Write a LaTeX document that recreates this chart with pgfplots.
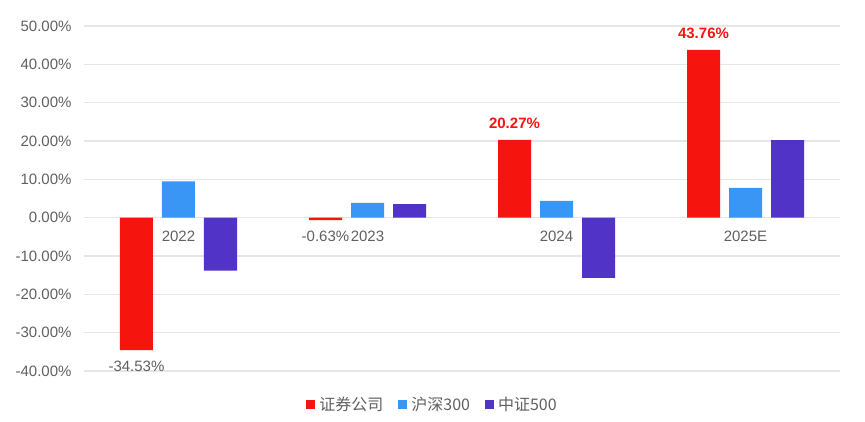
\documentclass[border=0pt]{standalone}
\usepackage{fontspec}
\setmainfont{Liberation Sans}
\newfontfamily\cjk{Noto Sans CJK SC}
\usepackage{pgfplots}
\pgfplotsset{compat=1.18}
\definecolor{cred}{RGB}{246,20,14}
\definecolor{cblue}{RGB}{58,150,245}
\definecolor{cpurple}{RGB}{82,51,200}
\definecolor{tgray}{RGB}{96,96,96}
\definecolor{ggray}{RGB}{230,230,230}
\newcommand\legtxt[1]{{\cjk\fontsize{16}{19}\selectfont #1}}
\pgfplotsset{sqlegend/.style={legend image code/.code={\fill[##1] (0pt,-4.5pt) rectangle (9pt,4.5pt);}}}
\begin{document}
\begin{tikzpicture}
\begin{axis}[
  scale only axis, width=756pt, height=345pt,
  xmin=-0.5, xmax=3.5, ymin=-40, ymax=50,
  axis x line*=middle, axis y line*=left,
  axis line style={draw=none},
  major tick length=0pt,
  hide obscured y ticks=false,
  ytick={-40,-30,...,50},
  ymajorgrids, grid style={ggray, line width=1.2pt},
  xtick={0,1,2,3}, xticklabels={2022,2023,2024,2025E},
  yticklabel={\pgfmathprintnumber[fixed,fixed zerofill,precision=2]{\tick}\%},
  ticklabel style={font=\fontsize{15}{18}\selectfont, text=tgray},
  x tick label style={yshift=-10pt},
  y tick label style={xshift=-9pt},
  /pgf/number format/assume math mode=true,
  legend style={at={(0.461,0)}, anchor=center, yshift=-34pt, draw=none, fill=none,
    legend columns=-1, text=tgray,
    /tikz/every odd column/.append style={column sep=2pt},
    /tikz/every even column/.append style={column sep=13pt}},
]
\addplot[ybar, fill=cred, draw=none, bar width=33pt, bar shift=-42pt, sqlegend,
  nodes near coords={\pgfmathprintnumber[fixed,fixed zerofill,precision=2]{\pgfplotspointmeta}\%},
  nodes near coords style={font=\fontsize{15}{18}\selectfont, text=tgray, inner ysep=11pt, xshift=-42pt}]
  coordinates {(0,-34.53) (1,-0.63)};
\addlegendentry{\legtxt{证券公司}}
\addplot[ybar, fill=cblue, draw=none, bar width=33pt, bar shift=0pt, sqlegend]
  coordinates {(0,9.47) (1,3.83) (2,4.35) (3,7.8)};
\addlegendentry{\legtxt{沪深300}}
\addplot[ybar, fill=cpurple, draw=none, bar width=33pt, bar shift=42pt, sqlegend]
  coordinates {(0,-13.8) (1,3.5) (2,-15.7) (3,20.2)};
\addlegendentry{\legtxt{中证500}}
\addplot[ybar, fill=cred, draw=none, bar width=33pt, bar shift=-42pt, forget plot,
  nodes near coords={\pgfmathprintnumber[fixed,fixed zerofill,precision=2]{\pgfplotspointmeta}\%},
  nodes near coords style={font=\bfseries\fontsize{15}{18}\selectfont, text=cred, inner ysep=11pt, xshift=-42pt}]
  coordinates {(2,20.27) (3,43.76)};
\end{axis}
\pgfresetboundingbox
\path ([shift={(-84pt,-51pt)}]current axis.south west) rectangle ([shift={(25pt,26pt)}]current axis.north east);
\end{tikzpicture}
\end{document}
